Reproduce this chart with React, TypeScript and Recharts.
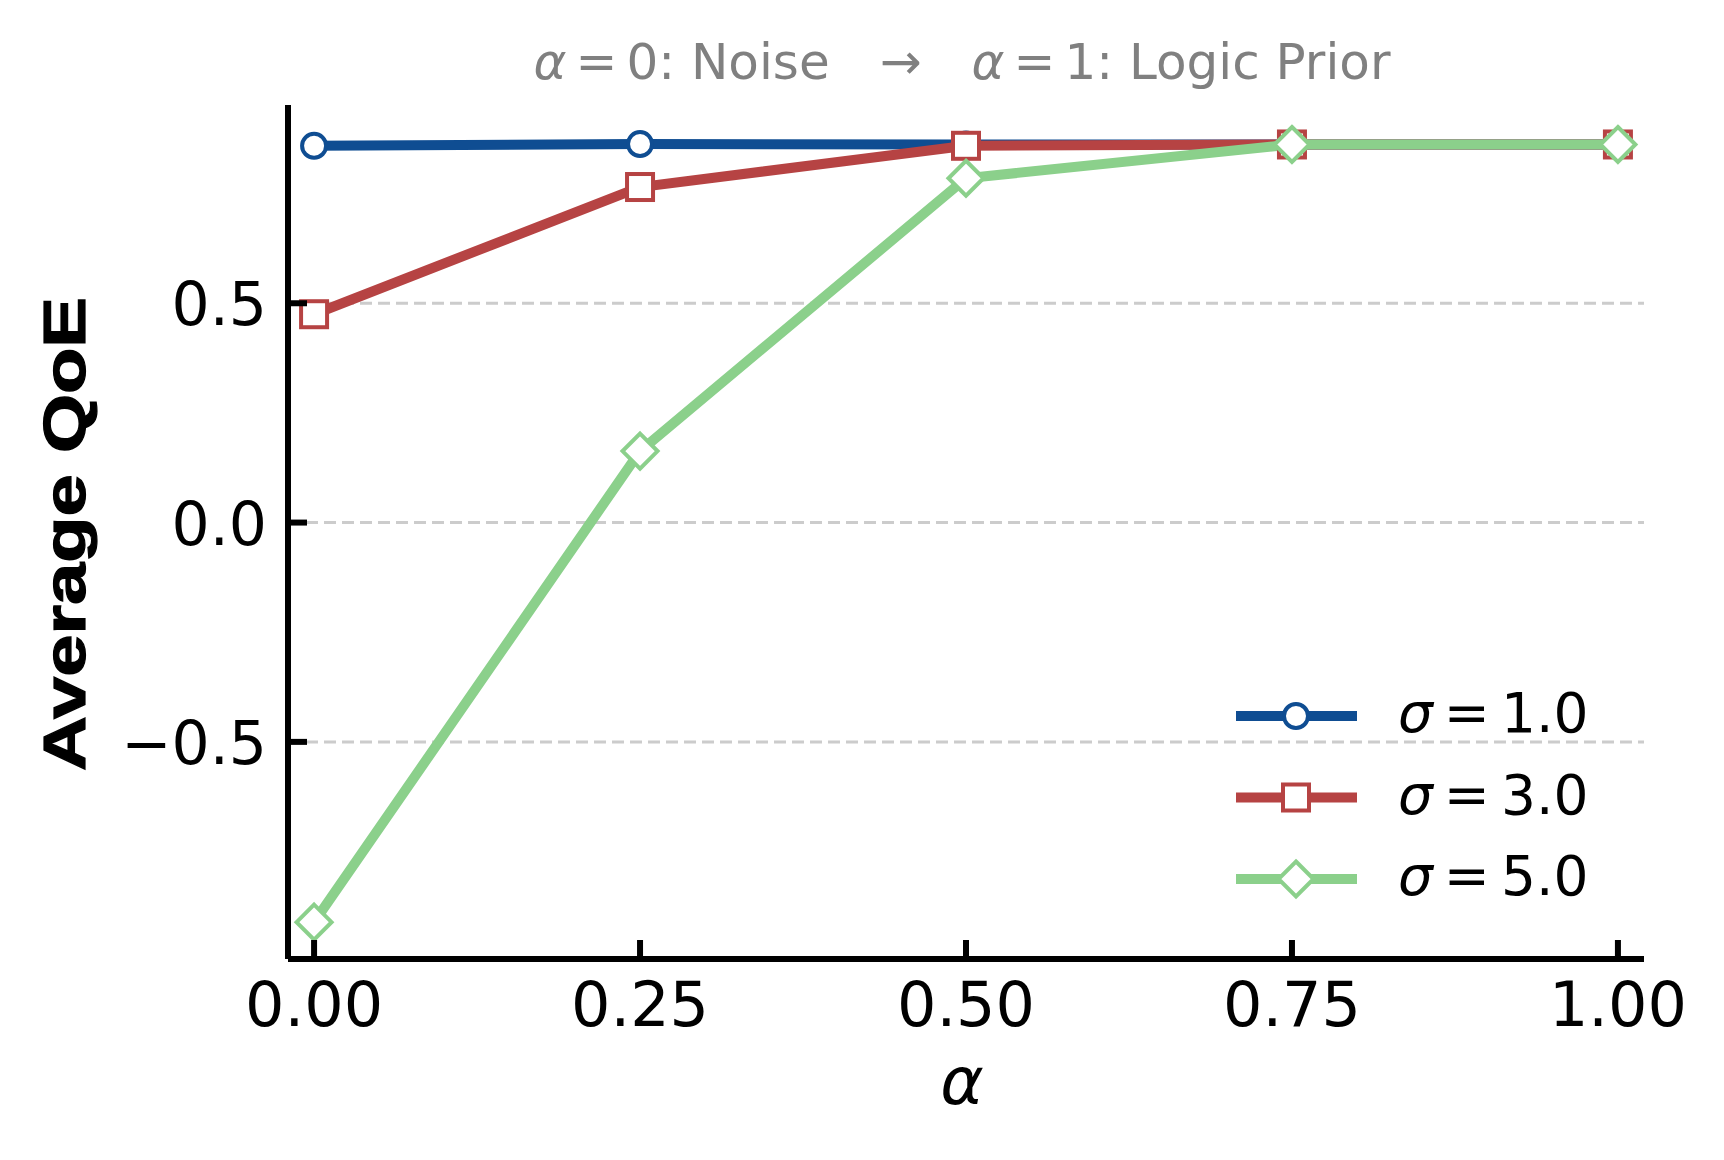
import { LineChart, Line, XAxis, YAxis, CartesianGrid } from "recharts"

const alphas = [0, 0.25, 0.5, 0.75, 1.0]
const sigma1 = [0.859, 0.863, 0.862, 0.862, 0.862]
const sigma3 = [0.475, 0.765, 0.859, 0.862, 0.862]
const sigma5 = [-0.911, 0.163, 0.785, 0.862, 0.862]

const xTicks = [0, 0.25, 0.5, 0.75, 1.0]
const yTicks = [-0.5, 0, 0.5]

const series = [
  { key: "s1", label: "1.0", color: "#0F4D92", marker: "circle" },
  { key: "s3", label: "3.0", color: "#B64343", marker: "square" },
  { key: "s5", label: "5.0", color: "#8BD08B", marker: "diamond" },
]

const data = alphas.map((a, i) => ({ alpha: a, s1: sigma1[i], s3: sigma3[i], s5: sigma5[i] }))

const FONT = "DejaVu Sans"

function Marker({ cx, cy, kind, color }: { cx: number; cy: number; kind: string; color: string }) {
  if (kind === "circle") {
    return <circle cx={cx} cy={cy} r={12} fill="#fff" stroke={color} strokeWidth={4} />
  }
  if (kind === "square") {
    return <rect x={cx - 13} y={cy - 13} width={26} height={26} fill="#fff" stroke={color} strokeWidth={4} />
  }
  const h = 17.5
  return (
    <polygon
      points={`${cx},${cy - h} ${cx + h},${cy} ${cx},${cy + h} ${cx - h},${cy}`}
      fill="#fff"
      stroke={color}
      strokeWidth={4}
    />
  )
}

function XTick(props: any) {
  const { x, y, payload } = props
  return (
    <g>
      <line x1={x} y1={y} x2={x} y2={y - 19} stroke="#000" strokeWidth={6} />
      <text x={x} y={y + 67} textAnchor="middle" fontFamily={FONT} fontSize={62} fill="#000">
        {payload.value.toFixed(2)}
      </text>
    </g>
  )
}

function YTick(props: any) {
  const { x, y, payload } = props
  const v = payload.value
  const s = v < 0 ? "\u2212" + Math.abs(v).toFixed(1) : v.toFixed(1)
  return (
    <g>
      <line x1={x} y1={y} x2={x + 19} y2={y} stroke="#000" strokeWidth={6} />
      <text x={x - 21} y={y + 22} textAnchor="end" fontFamily={FONT} fontSize={60} fill="#000">
        {s}
      </text>
    </g>
  )
}

// legend drawn by hand, top-left of its box at (1230, 670)
function LegendBox() {
  return (
    <g transform="translate(1230,670)">
      {series.map((s, i) => {
        const cy = 46 + i * 81.5
        return (
          <g key={s.key}>
            <line x1={6} y1={cy} x2={127} y2={cy} stroke={s.color} strokeWidth={10} />
            <Marker cx={66} cy={cy} kind={s.marker} color={s.color} />
            <text x={168} y={cy + 16} fontFamily={FONT} fontSize={55} fill="#000">
              <tspan fontStyle="italic">σ</tspan>
              <tspan dx={11}>=</tspan>
              <tspan dx={11}>{s.label}</tspan>
            </text>
          </g>
        )
      })}
    </g>
  )
}

export default function App() {
  return (
    <div style={{ position: "absolute", left: 0, top: 0, width: 1724, height: 1160, background: "#fff" }}>
      <LineChart
        width={1724}
        height={1160}
        data={data}
        margin={{ top: 105, right: 80, bottom: 51, left: 88 }}
      >
        <CartesianGrid
          horizontal={true}
          vertical={false}
          horizontalValues={yTicks}
          stroke="#cccccc"
          strokeWidth={3}
          strokeDasharray="12 6"
        />
        <XAxis
          dataKey="alpha"
          type="number"
          domain={[-0.02, 1.02]}
          ticks={xTicks}
          height={150}
          tickSize={0}
          tickMargin={0}
          tickLine={false}
          axisLine={{ stroke: "#000", strokeWidth: 6 }}
          tick={<XTick />}
          interval={0}
        />
        <YAxis
          type="number"
          domain={[-0.995, 0.952]}
          ticks={yTicks}
          width={200}
          tickSize={0}
          tickMargin={0}
          tickLine={false}
          axisLine={{ stroke: "#000", strokeWidth: 6 }}
          tick={<YTick />}
          interval={0}
          allowDataOverflow
        />
        {series.map((s) => (
          <Line
            key={s.key}
            dataKey={s.key}
            type="linear"
            stroke={s.color}
            strokeWidth={10}
            isAnimationActive={false}
            dot={(p: any) => <Marker key={p.index} cx={p.cx} cy={p.cy} kind={s.marker} color={s.color} />}
            activeDot={false}
          />
        ))}
      </LineChart>
      <svg
        width={1724}
        height={1160}
        style={{ position: "absolute", left: 0, top: 0, pointerEvents: "none" }}
      >
        <LegendBox />
        <text x={962} y={79} textAnchor="middle" fontFamily={FONT} fontSize={50} fill="#808080">
          <tspan fontStyle="italic">α</tspan>
          <tspan dx={9}>=</tspan>
          <tspan dx={9}>0: Noise</tspan>
          <tspan dx={50}>→</tspan>
          <tspan dx={50} fontStyle="italic">α</tspan>
          <tspan dx={9}>=</tspan>
          <tspan dx={9}>1: Logic Prior</tspan>
        </text>
        <text x={962} y={1104} textAnchor="middle" fontFamily={FONT} fontSize={66} fontStyle="italic" fill="#000">
          α
        </text>
        <text
          transform="translate(85,534) rotate(-90)"
          textAnchor="middle"
          fontFamily="Liberation Sans"
          fontWeight="bold"
          fontSize={60}
          textLength={474}
          lengthAdjust="spacingAndGlyphs"
          fill="#000"
          stroke="#000"
          strokeWidth={1.2}
        >
          Average QoE
        </text>
      </svg>
    </div>
  )
}
